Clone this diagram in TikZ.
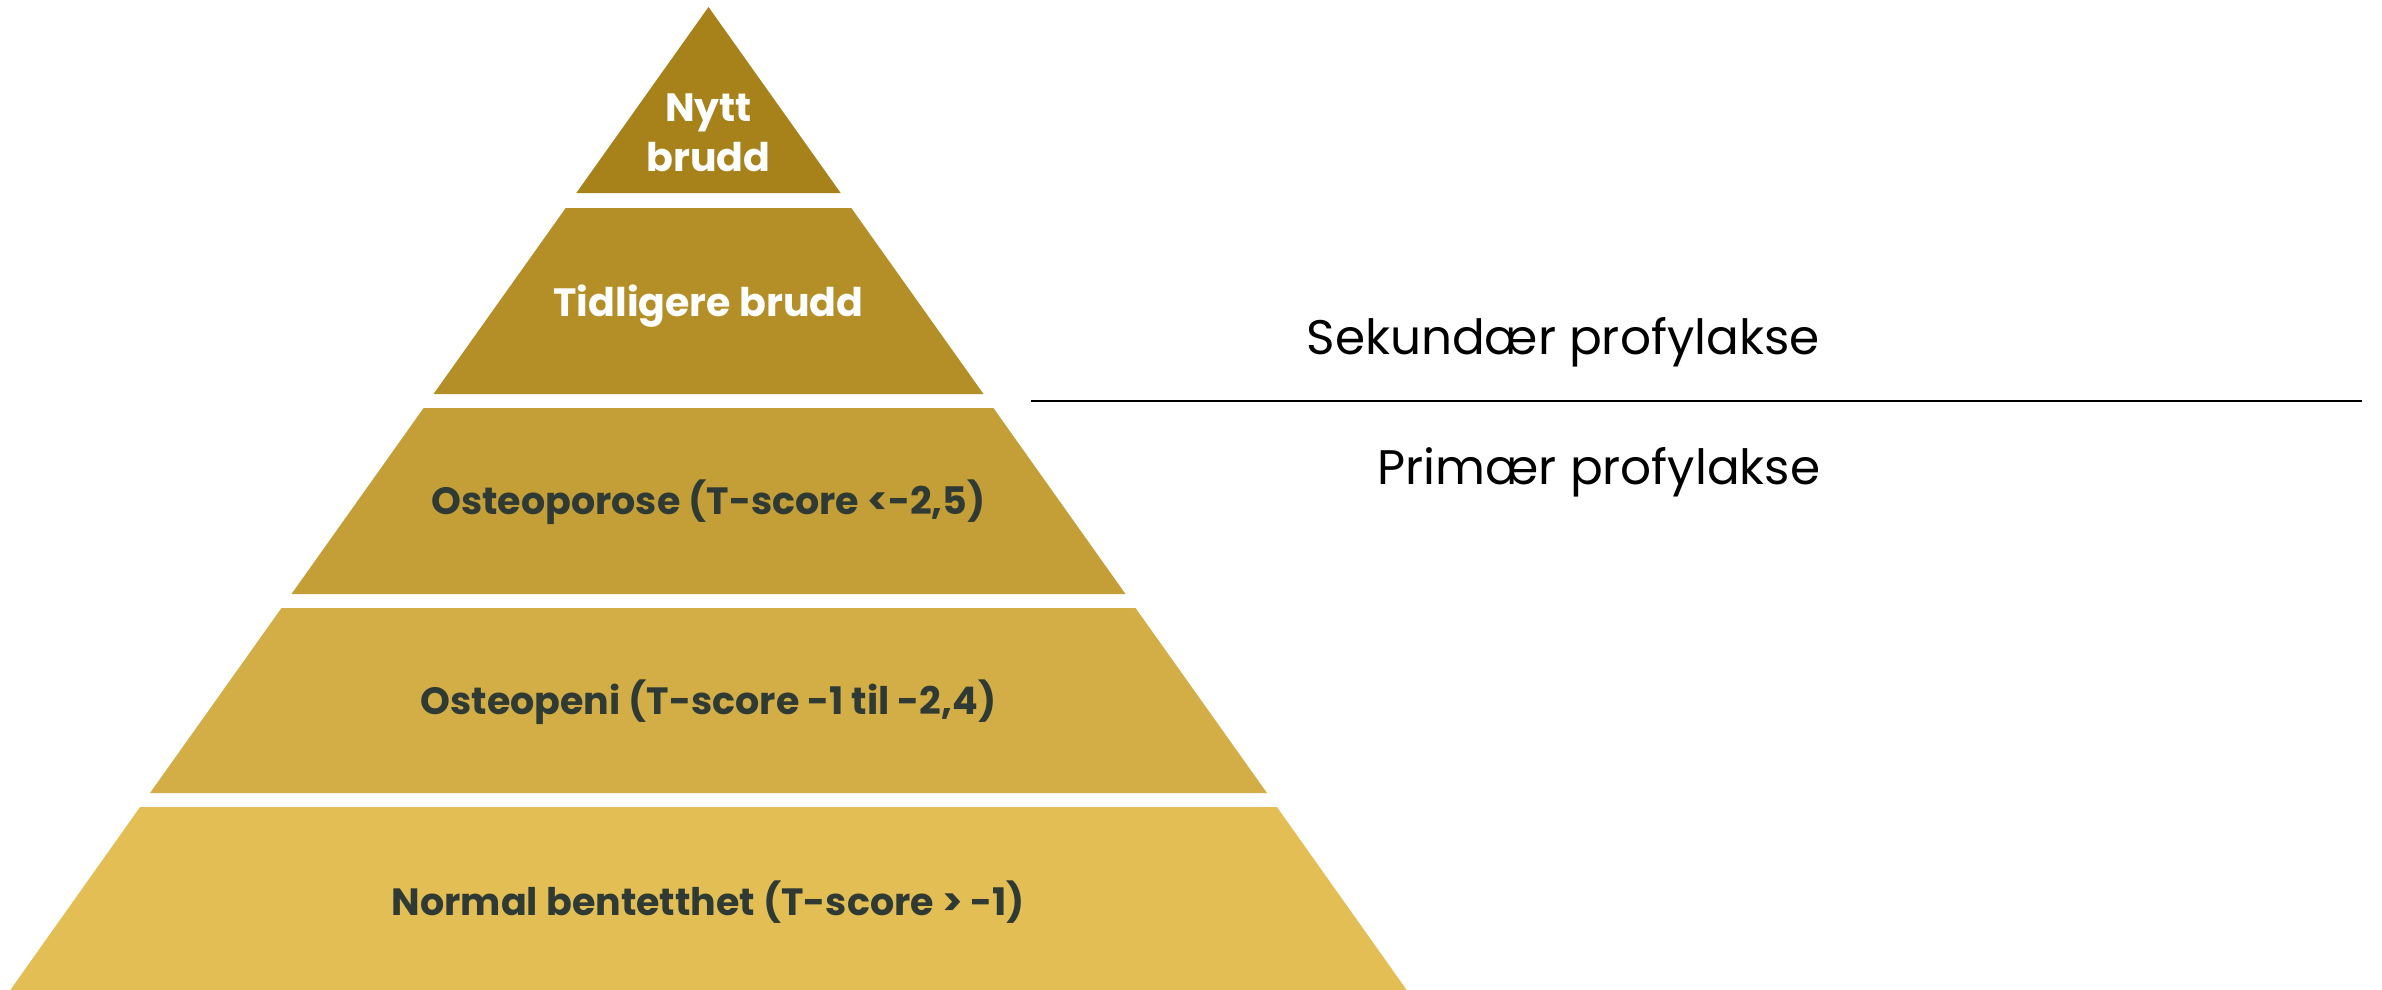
\documentclass[tikz,border=0pt]{standalone}
\usepackage{fontspec}
\setmainfont{Poppins}
\definecolor{tierA}{HTML}{A7821B}
\definecolor{tierB}{HTML}{B48F28}
\definecolor{tierC}{HTML}{C49F38}
\definecolor{tierD}{HTML}{D3AE47}
\definecolor{tierE}{HTML}{E2BE54}
\definecolor{darktext}{HTML}{2F3A34}
\begin{document}
\begin{tikzpicture}[x=1pt,y=-1pt,
  tierlabel/.style={align=center,font=\fontsize{38}{50}\selectfont\bfseries},
  toplabel/.style={tierlabel, font=\fontsize{39.5}{50}\selectfont\bfseries, text=white},
  sidelabel/.style={font=\fontsize{48.5}{56}\selectfont, text=black},
  divider/.style={line width=2.8pt, draw=black}]
\useasboundingbox (0,0) rectangle (2382,990);
\fill[white] (0,0) rectangle (2382,990);

% pyramid tiers, apex at (708.5,7)
\fill[tierA] (708.5,7) -- (840.7,193) -- (576.3,193) -- cycle;
\fill[tierB] (565.7,208) -- (851.3,208) -- (983.5,394) -- (433.5,394) -- cycle;
\fill[tierC] (423.6,408) -- (993.4,408) -- (1125.5,594) -- (291.5,594) -- cycle;
\fill[tierD] (281.5,608) -- (1135.5,608) -- (1267,793) -- (150,793) -- cycle;
\fill[tierE] (140.1,807) -- (1276.9,807) -- (1409.5,994) -- (7.5,994) -- cycle;

% tier labels
\node[toplabel] (nytt) at (708.5,133) {Nytt\\brudd};
\node[toplabel] (tidligere) at (708.5,306) {Tidligere brudd};
\node[tierlabel, text=darktext] (osteoporose) at (708.5,502) {Osteoporose (T-score <-2,5)};
\node[tierlabel, text=darktext] (osteopeni) at (708.5,702) {Osteopeni (T-score -1 til -2,4)};
\node[tierlabel, text=darktext] (normal) at (708.5,902) {Normal bentetthet (T-score > -1)};

% prophylaxis split
\node[sidelabel] (sekundaer) at (1563,342) {Sekundær profylakse};
\node[sidelabel] (primaer) at (1599,472) {Primær profylakse};
\coordinate (lineL) at (1031,401);
\coordinate (lineR) at (2362,401);
\draw[divider] (lineL) -- (lineR);
\end{tikzpicture}
\end{document}
